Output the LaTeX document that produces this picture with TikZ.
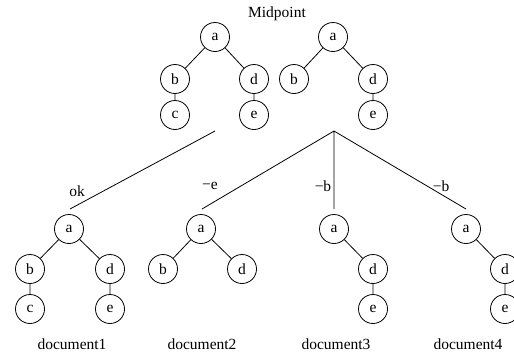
\documentclass[tikz,border=0pt]{standalone}
\usepackage{fontspec}
\setmainfont{Liberation Serif}
\begin{document}
\begin{tikzpicture}[x=1pt,y=-1pt,font=\fontsize{15.5}{18}\selectfont,
  tn/.style={circle,draw,line width=0.8pt,minimum size=29pt,inner sep=0pt},
  edge/.style={line width=0.8pt},
  lbl/.style={inner sep=0pt}]
\useasboundingbox (0,0) rectangle (514,354);
\clip (0,0) rectangle (514,354);
% Midpoint trees
\node[lbl] (mid) at (277,14) {Midpoint};
\node[tn] (ma) at (215,37) {a};
\node[tn] (mb) at (175,79) {b};
\node[tn] (md) at (254,79) {d};
\node[tn] (mc) at (175,115) {c};
\node[tn] (me) at (254,115) {e};
\draw[edge] (ma)--(mb) (ma)--(md) (mb)--(mc) (md)--(me);
\node[tn] (na) at (333,37) {a};
\node[tn] (nb) at (294,79) {b};
\node[tn] (nd) at (373,79) {d};
\node[tn] (ne) at (373,115) {e};
\draw[edge] (na)--(nb) (na)--(nd) (nd)--(ne);
% branch lines
\coordinate (l0) at (215,131);
\coordinate (l1) at (70,209);
\draw[edge] (l0)--(l1);
\node[lbl] (lok) at (77,191) {ok};
\coordinate (r0) at (334,131);
\coordinate (r2) at (202,209);
\coordinate (r3) at (334,209);
\coordinate (r4) at (466,209);
\draw[edge] (r0)--(r2) (r0)--(r3) (r0)--(r4);
\node[lbl] (le) at (210,186) {−e};
\node[lbl] (lb1) at (323,186) {−b};
\node[lbl] (lb2) at (441,186) {−b};
% document1
\node[tn] (a1) at (69,229) {a};
\node[tn] (b1) at (30,269) {b};
\node[tn] (d1) at (110,269) {d};
\node[tn] (c1) at (30,309) {c};
\node[tn] (e1) at (110,309) {e};
\draw[edge] (a1)--(b1) (a1)--(d1) (b1)--(c1) (d1)--(e1);
\node[lbl] (doc1) at (72,344) {document1};
% document2
\node[tn] (a2) at (201,229) {a};
\node[tn] (b2) at (163,269) {b};
\node[tn] (d2) at (242,269) {d};
\draw[edge] (a2)--(b2) (a2)--(d2);
\node[lbl] (doc2) at (202,344) {document2};
% document3
\node[tn] (a3) at (334,229) {a};
\node[tn] (d3) at (373,269) {d};
\node[tn] (e3) at (373,309) {e};
\draw[edge] (a3)--(d3) (d3)--(e3);
\node[lbl] (doc3) at (336,344) {document3};
% document4
\node[tn] (a4) at (466,229) {a};
\node[tn] (d4) at (505,269) {d};
\node[tn] (e4) at (505,309) {e};
\draw[edge] (a4)--(d4) (d4)--(e4);
\node[lbl] (doc4) at (468,344) {document4};
\end{tikzpicture}
\end{document}
